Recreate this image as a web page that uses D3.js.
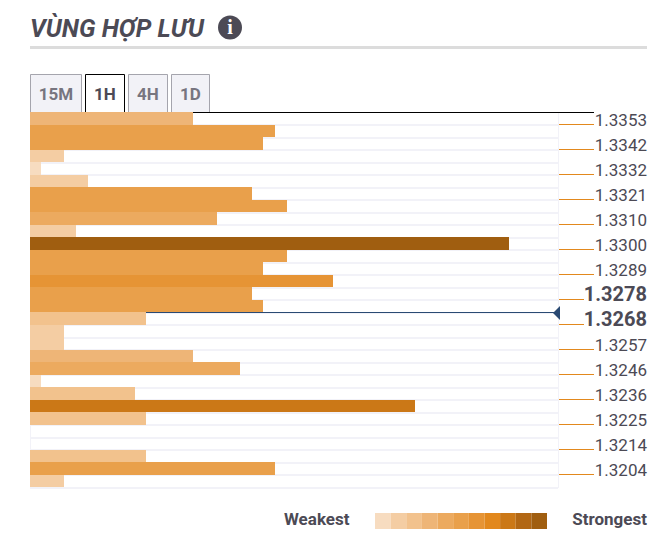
<!DOCTYPE html>
<html>
<head>
  <meta charset="UTF-8">
  <script src="https://d3js.org/d3.v7.min.js"></script>
  <title>Vùng hợp lưu</title>
  <style>
    html, body { margin: 0; padding: 0; background: #fff; }
    text { font-family: Roboto, sans-serif; }
  </style>
</head>
<body>
  <svg id="chart"></svg>
  <script>

    var tabLabels = ["15M", "1H", "4H", "1D"];
    var activeTab = "1H";

    // one value per row, top to bottom
    var rowValues = [14, 21, 20, 2.95, 1, 5, 19, 22, 16, 4, 41, 22, 20, 26, 19,
                     20, 10, 2.95, 2.95, 14, 18, 1, 9, 33, 10, 0, 0, 10, 21, 2.95];

    var priceLabels = ["1.3353", "1.3342", "1.3332", "1.3321", "1.3310",
                       "1.3300", "1.3289", "1.3278", "1.3268", "1.3257",
                       "1.3246", "1.3236", "1.3225", "1.3214", "1.3204"];
    var currentLabels = ["1.3278", "1.3268"];
    var currentRow = 16;

    var strengthColors = ["#f7dcc0", "#f4cda3", "#f2c28d", "#eeb577", "#ecaa5f", "#e9a04b",
                          "#e69435", "#e2881d", "#cb7817", "#b26714", "#a05e10"];
    var strengthSteps = [2, 8, 12, 15, 19, 24, 30, 32, 36, 40];

    var width = 667;
    var height = 560;
    var left = 30;
    var plotRight = 558;
    var top_ = 112;
    var bottom = 487;
    var dark = "#4c4a55";

    var svg = d3.select("#chart")
        .attr("width", width)
        .attr("height", height)
        .style("display", "block");

    var x = d3.scaleLinear().domain([0, 45]).range([left, 556]);
    var y = d3.scaleBand().domain(d3.range(rowValues.length)).range([top_, bottom]);
    var color = d3.scaleThreshold().domain(strengthSteps).range(strengthColors);
    var priceY = d3.scalePoint().domain(priceLabels).range([124, 474]);

    // header
    svg.append("text")
        .attr("x", 30)
        .attr("y", 37)
        .attr("fill", dark)
        .style("font-size", "25px")
        .style("font-weight", 700)
        .style("font-style", "italic")
        .text("VÙNG HỢP LƯU");

    svg.append("circle")
        .attr("cx", 230)
        .attr("cy", 27.5)
        .attr("r", 12)
        .attr("fill", dark);

    svg.append("text")
        .attr("x", 230)
        .attr("y", 34)
        .attr("text-anchor", "middle")
        .attr("fill", "#fff")
        .style("font-family", "'Liberation Serif', serif")
        .style("font-size", "20px")
        .style("font-weight", 700)
        .text("i");

    svg.append("rect")
        .attr("x", 30)
        .attr("y", 46)
        .attr("width", 617)
        .attr("height", 3)
        .attr("fill", "#dcdcdc");

    // tabs
    var tabX = d3.scaleOrdinal().domain(tabLabels).range([30, 85, 128, 171]);
    var tabW = d3.scaleOrdinal().domain(tabLabels).range([51, 39, 39, 38]);

    var tabs = svg.selectAll(".tab")
        .data(tabLabels)
        .enter().append("g")
        .attr("class", "tab")
        .attr("transform", function(d) { return "translate(" + tabX(d) + ",74)"; });

    tabs.append("rect")
        .attr("x", 0)
        .attr("y", 0)
        .attr("width", function(d) { return tabW(d) + 1; })
        .attr("height", 38)
        .attr("fill", function(d) { return d == activeTab ? "#fff" : "#f2f2f7"; });

    tabs.append("path")
        .attr("d", function(d) { return "M0.5,38V0.5H" + (tabW(d) + 0.5) + "V38"; })
        .attr("fill", "none")
        .attr("stroke", function(d) { return d == activeTab ? "#000" : "#a5a5ad"; });

    tabs.append("text")
        .attr("x", function(d) { return (tabW(d) + 1) / 2; })
        .attr("y", 25.5)
        .attr("text-anchor", "middle")
        .attr("fill", function(d) { return d == activeTab ? dark : "#77757f"; })
        .style("font-size", "17px")
        .style("font-weight", 700)
        .text(function(d) { return d; });

    // plot frame and row separators
    svg.append("rect")
        .attr("x", left + 0.5)
        .attr("y", top_ + 0.5)
        .attr("width", plotRight - left)
        .attr("height", bottom - top_)
        .attr("fill", "#fff")
        .attr("stroke", "#f2f2f8");

    svg.selectAll(".sep")
        .data(d3.range(rowValues.length))
        .enter().append("rect")
        .attr("class", "sep")
        .attr("x", left)
        .attr("y", function(d) { return Math.floor(y(d) + y.bandwidth()); })
        .attr("width", plotRight - left)
        .attr("height", 2)
        .attr("fill", "#f2f2f8");

    // top rule and current price line sit under the bars
    svg.append("line")
        .attr("x1", left)
        .attr("x2", 594)
        .attr("y1", top_ + 0.5)
        .attr("y2", top_ + 0.5)
        .attr("stroke", "#000");

    svg.append("line")
        .attr("x1", left)
        .attr("x2", 556)
        .attr("y1", y(currentRow) + 0.5)
        .attr("y2", y(currentRow) + 0.5)
        .attr("stroke", "#2a4a73");

    svg.append("path")
        .attr("d", d3.line()([[553, y(currentRow) + 1], [560, y(currentRow) - 6], [560, y(currentRow) + 8]]) + "Z")
        .attr("fill", "#2a4a73");

    svg.selectAll(".bar")
        .data(rowValues)
        .enter().append("rect")
        .attr("class", "bar")
        .attr("x", x(0))
        .attr("y", function(d, i) { return Math.round(y(i)); })
        .attr("width", function(d) { return Math.floor(x(d)) - x(0); })
        .attr("height", function(d, i) { return Math.round(y(i) + y.bandwidth()) - Math.round(y(i)); })
        .attr("fill", function(d) { return color(d); });

    // price axis
    var axis = svg.append("g")
        .attr("transform", "translate(559,0)")
        .call(d3.axisRight(priceY).tickSize(35).tickFormat(function(d) { return d; }));

    axis.select(".domain").remove();

    axis.selectAll(".tick line")
        .attr("stroke", "#e2881d")
        .attr("x2", function(d) { return currentLabels.indexOf(d) >= 0 ? 25 : 35; });

    axis.selectAll(".tick text")
        .attr("x", 88)
        .attr("y", 1)
        .attr("dy", 0)
        .attr("text-anchor", "end")
        .attr("fill", dark)
        .style("font-family", "Roboto, sans-serif")
        .style("font-size", function(d) { return currentLabels.indexOf(d) >= 0 ? "20px" : "17px"; })
        .style("font-weight", function(d) { return currentLabels.indexOf(d) >= 0 ? 700 : 400; });

    // legend
    var legendX = d3.scaleBand().domain(strengthColors).range([375, 547]);

    svg.selectAll(".legend")
        .data(strengthColors)
        .enter().append("rect")
        .attr("class", "legend")
        .attr("x", function(d) { return legendX(d); })
        .attr("y", 513)
        .attr("width", legendX.bandwidth())
        .attr("height", 16)
        .attr("fill", function(d) { return d; });

    svg.append("text")
        .attr("x", 284)
        .attr("y", 525)
        .attr("fill", dark)
        .style("font-size", "17px")
        .style("font-weight", 700)
        .text("Weakest");

    svg.append("text")
        .attr("x", 647)
        .attr("y", 525)
        .attr("text-anchor", "end")
        .attr("fill", dark)
        .style("font-size", "17px")
        .style("font-weight", 700)
        .text("Strongest");

  </script>
</body>
</html>
